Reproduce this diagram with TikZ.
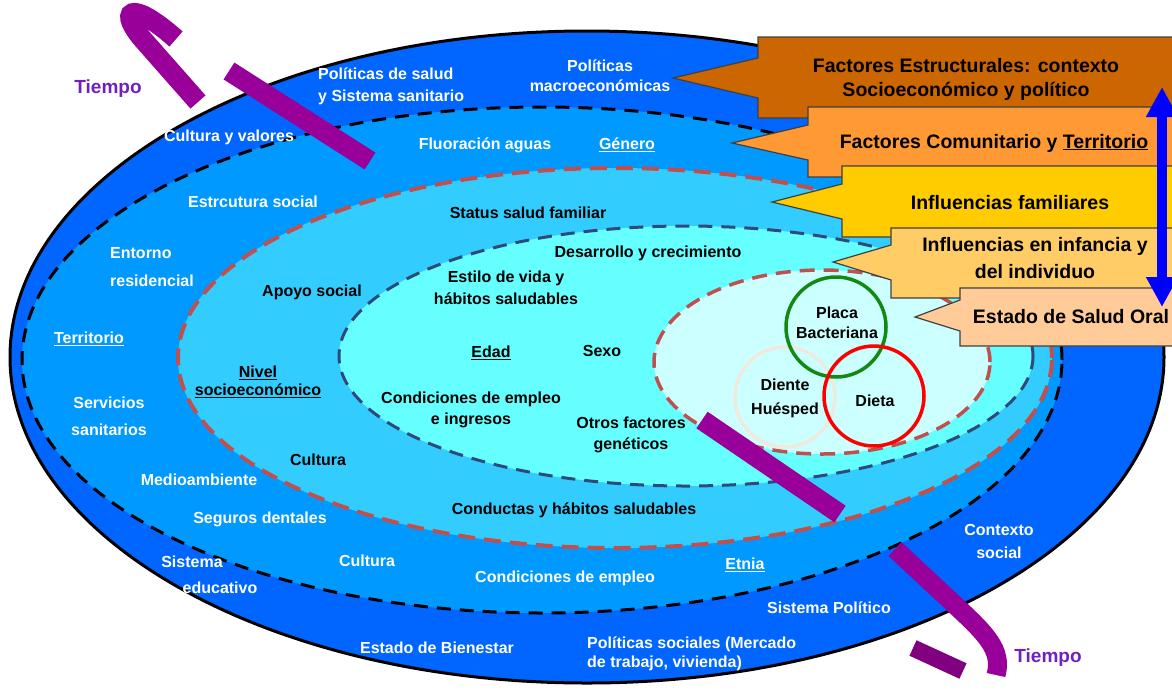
\documentclass[tikz,border=0pt]{standalone}
\usepackage{fontspec}
\setmainfont{Liberation Sans}
\usetikzlibrary{arrows.meta}
\definecolor{ringA}{HTML}{0066FF}
\definecolor{ringB}{HTML}{0099FF}
\definecolor{ringC}{HTML}{33CCFF}
\definecolor{ringD}{HTML}{66FFFF}
\definecolor{ringE}{HTML}{CCFFFF}
\definecolor{dashRed}{HTML}{C0504D}
\definecolor{dashNavy}{HTML}{2E4A7A}
\definecolor{timeP}{HTML}{990099}
\definecolor{timeQ}{HTML}{800080}
\definecolor{timeT}{HTML}{7020C0}
\definecolor{boxA}{HTML}{CC6600}
\definecolor{boxB}{HTML}{FF9933}
\definecolor{boxC}{HTML}{FFCC00}
\definecolor{boxD}{HTML}{FFCC66}
\definecolor{boxE}{HTML}{FFCC99}
\definecolor{cGreen}{HTML}{128A12}
\definecolor{cBeige}{HTML}{EFE9DF}
\definecolor{cRed}{HTML}{FF0000}
\definecolor{arrowB}{HTML}{0000FF}
\begin{document}
\begin{tikzpicture}[x=1pt,y=-1pt,
  lab/.style={font=\fontsize{16}{#1}\selectfont\bfseries, align=center, inner sep=0pt},
  lab/.default=22,
  wl/.style={lab=#1, text=white}, wl/.default=22,
  bl/.style={lab=#1, text=black}, bl/.default=22,
  btxt/.style={font=\fontsize{19.5}{#1}\selectfont\bfseries, align=center, inner sep=0pt, text=black},
  btxt/.default=24,
  tiempo/.style={font=\fontsize{19}{22}\selectfont\bfseries, inner sep=0pt, text=timeT},
  callout/.style={draw=black!75, line width=1.2pt},
  tbar/.style={draw=timeP, line width=20pt},
  ring/.style={line width=3.5pt},
]
\useasboundingbox (0,0) rectangle (1172,689);

% ---- nested ellipses
\filldraw[fill=ringA, draw=black, line width=3pt] (587,357) ellipse [x radius=577pt, y radius=326pt];
\filldraw[fill=ringB, draw=black, line width=3pt, dash pattern=on 14pt off 9pt] (542,360) ellipse [x radius=520pt, y radius=253pt];
\filldraw[fill=ringC, draw=dashRed, line width=4pt, dash pattern=on 17pt off 9pt] (615,358) ellipse [x radius=437pt, y radius=190pt];
\filldraw[fill=ringD, draw=dashNavy, line width=3pt, dash pattern=on 14pt off 9pt] (686,356) ellipse [x radius=347pt, y radius=130pt];
\filldraw[fill=ringE, draw=dashRed, line width=3.5pt, dash pattern=on 15pt off 9pt] (822,362) ellipse [x radius=168pt, y radius=92pt];

% ---- three circles
\draw[ring, draw=cBeige] (785,397) circle [radius=50pt];
\draw[ring, draw=cGreen] (836,327) circle [radius=50pt];
\draw[ring, draw=cRed] (874,396) circle [radius=50pt];
\node[bl=20] (pb) at (837,323) {Placa\\Bacteriana};
\node[bl=24] (dh) at (785,398) {Diente\\Huésped};
\node[bl] (di) at (875,401) {Dieta};

% ---- outer ring labels
\node[wl, align=left, anchor=west] (ps) at (318,86) {Políticas de salud\\y Sistema sanitario};
\node[wl=20] (pm) at (600,76) {Políticas\\macroeconómicas};
\node[wl] (cv) at (229,137) {Cultura y valores};
\node[wl=23] (cs) at (999,541) {Contexto\\social};
\node[wl] (sp) at (829,608) {Sistema Político};
\node[wl=19, align=left, anchor=west] (pso) at (587,654) {Políticas sociales (Mercado\\de trabajo, vivienda)};
\node[wl] (eb) at (437,648) {Estado de Bienestar};
\node[wl] (se1) at (192,562) {Sistema};
\node[wl] (se2) at (220,588) {educativo};

% ---- second ring labels
\node[wl] (fa) at (485,145) {Fluoración aguas};
\node[wl] (ge) at (627,145) {\underline{Género}};
\node[wl] (es) at (253,202) {Estrcutura social};
\node[wl=28, align=left, anchor=west] (er) at (110,267) {Entorno\\residencial};
\node[wl] (te) at (89,339) {\underline{Territorio}};
\node[wl=27] (ss) at (109,416) {Servicios\\sanitarios};
\node[wl] (ma) at (199,480) {Medioambiente};
\node[wl] (sd) at (260,519) {Seguros dentales};
\node[wl] (cu2) at (367,561) {Cultura};
\node[wl] (ce) at (565,578) {Condiciones de empleo};
\node[wl] (et) at (745,565) {\underline{Etnia}};

% ---- third ring labels
\node[bl] (ssf) at (528,213) {Status salud familiar};
\node[bl] (as) at (312,292) {Apoyo social};
\node[bl=18] (ns) at (258,382) {\underline{Nivel}\\\underline{socioeconómico}};
\node[bl] (cu1) at (318,460) {Cultura};
\node[bl] (ch) at (574,510) {Conductas y hábitos saludables};

% ---- fourth ring labels
\node[bl] (dc) at (648,253) {Desarrollo y crecimiento};
\node[bl] (ev) at (506,288) {Estilo de vida y\\hábitos saludables};
\node[bl] (ed) at (491,353) {\underline{Edad}};
\node[bl] (sx) at (602,351) {Sexo};
\node[bl=21] (cei) at (471,410) {Condiciones de empleo\\e ingresos};
\node[bl=21] (ofg) at (631,435) {Otros factores\\genéticos};

% ---- time arrow pieces
\draw[tbar] (198,102) -- (146,43) .. controls (116,10) and (130,-2) .. (176,39);
\draw[tbar] (229,71) -- (370,161);
\draw[tbar] (702,420) -- (840,514);
\draw[tbar, line width=19pt] (895,549) -- (955,605) .. controls (985,633) and (1003,650) .. (996,675);
\draw[draw=timeQ, line width=17pt] (913,648) -- (963,671);
\node[tiempo] (t1) at (108,89) {Tiempo};
\node[tiempo] (t2) at (1048,658) {Tiempo};

% ---- callout boxes
\filldraw[callout, fill=boxA] (758,37) -- (1185,37) -- (1185,118) -- (758,118) -- (758,98) -- (673,78) -- (758,58) -- cycle;
\node[btxt] (bt1) at (966,79) {Factores Estructurales: contexto\\Socioeconómico y político};
\filldraw[callout, fill=boxB] (808,107) -- (1185,107) -- (1185,177) -- (808,177) -- (808,160) -- (732,143) -- (808,125) -- cycle;
\node[btxt] (bt2) at (994,143) {Factores Comunitario y \underline{Territorio}};
\filldraw[callout, fill=boxC] (842,166) -- (1185,166) -- (1185,237) -- (842,237) -- (842,219) -- (772,202) -- (842,184) -- cycle;
\node[btxt] (bt3) at (1010,203) {Influencias familiares};
\filldraw[callout, fill=boxD] (891,228) -- (1185,228) -- (1185,298) -- (891,298) -- (891,280) -- (833,262) -- (891,245) -- cycle;
\node[btxt=27] (bt4) at (1035,258.5) {Influencias en infancia y\\del individuo};
\filldraw[callout, fill=boxE] (960,288) -- (1185,288) -- (1185,346) -- (960,346) -- (960,331) -- (915,317) -- (960,300) -- cycle;
\node[btxt] (bt5) at (1071,317) {Estado de Salud Oral};

% ---- blue double arrow
\coordinate (upEnd) at (1162,87);
\coordinate (downEnd) at (1162,307);
\draw[draw=arrowB, line width=10pt, {Triangle[width=30pt,length=30pt]}-{Triangle[width=30pt,length=30pt]}] (upEnd) -- (downEnd);
\end{tikzpicture}
\end{document}
